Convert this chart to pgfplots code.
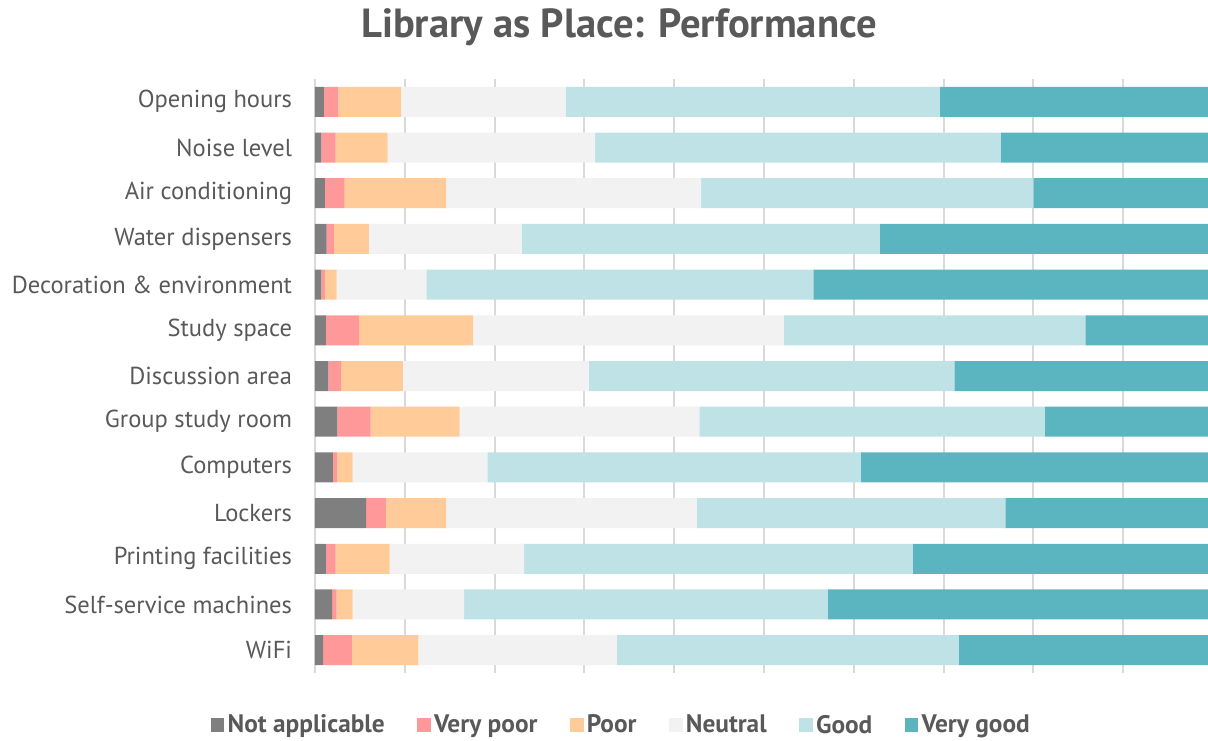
\documentclass[border=0pt]{standalone}
\usepackage{pgfplots}
\pgfplotsset{compat=1.18}
\usepackage{pgfplotstable}
\usepackage{fontspec}
\setmainfont{PT Sans}
\definecolor{cNA}{HTML}{7F7F7F}
\definecolor{cVP}{HTML}{FF9999}
\definecolor{cP}{HTML}{FFCC99}
\definecolor{cN}{HTML}{F2F2F2}
\definecolor{cG}{HTML}{BEE2E5}
\definecolor{cVG}{HTML}{5AB5C1}
\definecolor{cGrid}{HTML}{D9D9D9}
\definecolor{cText}{HTML}{595959}
\pgfplotstableread{
idx na vp p n g vg
0 1.0 1.6 7.0 18.3 41.7 30.4
1 0.7 1.6 5.8 23.1 45.2 23.6
2 1.1 2.2 11.3 28.4 37.0 20.0
3 1.3 0.8 3.9 17.0 39.9 37.1
4 0.7 0.4 1.3 10.0 43.1 44.5
5 1.2 3.7 12.7 34.6 33.6 14.2
6 1.5 1.4 6.9 20.7 40.7 28.8
7 2.5 3.7 9.9 26.7 38.5 18.7
8 2.0 0.5 1.7 15.0 41.6 39.2
9 5.7 2.2 6.7 27.9 34.4 23.1
10 1.2 1.1 6.0 15.0 43.3 33.4
11 1.9 0.5 1.8 12.4 40.5 42.9
12 0.9 3.2 7.4 22.1 38.1 28.3
}\data
\begin{document}
\begin{tikzpicture}
\path[use as bounding box] (0,0) rectangle (906pt,555pt);
\begin{axis}[
  at={(236.25pt,50.25pt)}, anchor=south west,
  scale only axis, width=673.4pt, height=445.5pt,
  xbar stacked, bar width=22.5pt,
  xmin=0, xmax=100, ymin=-0.5, ymax=12.5, y dir=reverse,
  xtick={0,10,...,100}, xticklabels={},
  xmajorgrids, grid style={draw=cGrid, line width=1.5pt},
  major tick length=0pt,
  ytick={0,...,12},
  yticklabels={Opening hours, Noise level, Air conditioning, Water dispensers, Decoration \& environment, Study space, Discussion area, Group study room, Computers, Lockers, Printing facilities, Self-service machines, WiFi},
  yticklabel style={font=\fontsize{18.4}{21}\selectfont, text=cText, inner sep=0pt, xshift=-17pt},
  axis line style={draw=none},
  title={Library as Place: Performance},
  title style={at={(0.3386,1.073)}, anchor=center, font=\bfseries\fontsize{30.5}{34}\selectfont, text=cText},
  legend columns=6,
  legend style={at={(0.342,-0.0875)}, anchor=center, draw=none, fill=none,
    font=\bfseries\fontsize{19}{22}\selectfont, text=cText,
    nodes={inner xsep=2.5pt},
    /tikz/every even column/.append style={column sep=22pt}},
  legend image code/.code={\fill[#1] (0pt,-5pt) rectangle (10pt,5pt);},
]
\addplot[fill=cNA, draw=none] table[x=na, y=idx] {\data};
\addplot[fill=cVP, draw=none] table[x=vp, y=idx] {\data};
\addplot[fill=cP, draw=none] table[x=p, y=idx] {\data};
\addplot[fill=cN, draw=none] table[x=n, y=idx] {\data};
\addplot[fill=cG, draw=none] table[x=g, y=idx] {\data};
\addplot[fill=cVG, draw=none] table[x=vg, y=idx] {\data};
\legend{Not applicable, Very poor, Poor, Neutral, Good, Very good}
\end{axis}
\end{tikzpicture}
\end{document}
